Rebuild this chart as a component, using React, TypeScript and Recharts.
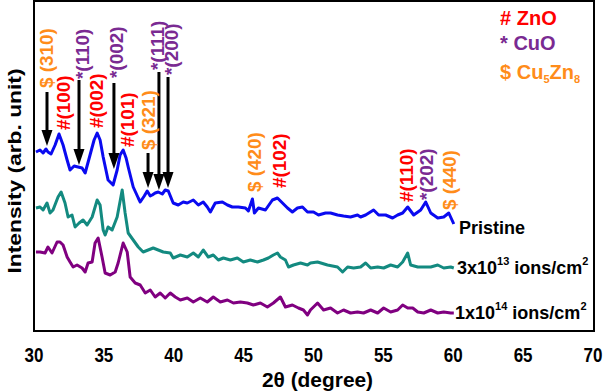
import React from 'react';
import { LineChart, Line, XAxis, YAxis, ReferenceDot, ReferenceLine, Label } from 'recharts';

const FONT = "'Liberation Sans', Arial, Helvetica, sans-serif";

const xTicks = [30, 35, 40, 45, 50, 55, 60, 65, 70];
const xDomain = [30, 70];
const yDomain = [-1, 329];

const pristineTheta = [30.14,30.43,30.65,30.86,31.00,31.22,31.51,31.79,32.08,32.37,
32.58,32.87,33.15,33.44,33.66,34.01,34.30,34.52,34.73,34.95,
35.30,35.66,35.95,36.16,36.38,36.59,36.74,37.10,37.46,37.60,
37.89,38.10,38.32,38.46,38.67,38.89,39.18,39.39,39.61,39.96,
40.32,40.68,40.97,41.40,41.76,42.11,42.40,42.62,42.97,43.48,
43.84,44.19,44.62,45.13,45.34,45.63,45.77,46.06,46.56,47.06,
47.42,47.78,48.14,48.49,48.85,49.21,49.57,50.00,50.36,50.86,
51.22,51.72,52.15,52.65,53.15,53.37,53.73,54.30,54.66,55.16,
55.66,56.02,56.38,56.74,57.17,57.67,58.03,58.39,58.89,59.32,
59.68,60.04];
const pristineIntensity = [178,180,177,181,178,176,185,196,185,170,
160,164,163,162,157,175,190,197,190,173,
150,145,160,175,180,172,163,143,132,128,
134,139,134,135,137,138,136,140,139,127,
125,128,127,130,125,128,123,118,127,128,
125,123,123,122,119,131,117,122,120,130,
132,127,122,118,122,123,118,118,115,117,
117,115,114,113,115,113,115,120,115,115,
112,115,117,123,115,120,128,117,112,113,
117,106];

const dose13Theta = [30.14,30.43,30.65,30.93,31.15,31.36,31.72,31.94,32.22,32.44,
32.72,32.94,33.23,33.51,33.80,34.16,34.52,34.73,34.95,35.09,
35.30,35.59,35.95,36.31,36.52,36.74,37.10,37.46,37.81,38.17,
38.53,38.89,39.25,39.75,39.96,40.47,40.97,41.40,41.76,42.11,
42.47,42.83,43.19,43.55,44.05,44.55,44.98,45.48,45.99,46.42,
46.77,47.13,47.42,47.63,47.99,48.21,48.57,49.07,49.57,49.78,
50.29,51.00,51.72,52.08,52.44,52.87,53.37,53.73,54.09,54.59,
55.02,55.52,56.02,56.38,56.74,56.95,57.46,57.89,58.39,58.89,
59.32,59.82,60.04];
const dose13Intensity = [122,123,120,127,117,120,133,138,127,113,
115,103,107,110,105,113,130,125,100,95,
103,100,113,140,117,97,90,83,78,80,
82,80,78,77,72,75,73,77,73,80,
73,75,70,72,70,72,68,70,68,70,
72,75,77,73,70,63,65,67,65,67,
68,65,63,58,63,62,63,67,62,63,
62,65,63,68,77,65,63,63,63,65,
62,63,62];

const dose14Theta = [30.14,30.43,30.79,31.00,31.29,31.65,31.86,32.08,32.37,32.58,
32.80,33.08,33.44,33.66,33.87,34.16,34.37,34.59,34.87,35.09,
35.45,35.81,36.02,36.38,36.67,36.88,37.24,37.60,37.96,38.32,
38.67,39.03,39.39,39.75,40.11,40.47,40.97,41.40,41.90,42.40,
42.83,43.33,43.84,44.27,44.77,45.27,45.70,46.20,46.70,47.13,
47.63,47.99,48.49,48.92,49.28,49.57,49.78,50.29,50.72,51.22,
51.72,52.15,52.65,53.15,53.58,54.09,54.59,55.02,55.52,56.02,
56.38,56.74,57.10,57.46,57.89,58.39,58.89,59.32,59.82,60.04];
const dose14Intensity = [78,78,77,83,77,88,88,85,73,68,
63,65,62,58,67,68,87,92,73,57,
55,58,67,87,78,53,47,45,37,40,
33,37,32,37,33,30,32,28,32,28,
33,28,30,27,28,27,25,27,23,27,
33,23,25,22,20,15,20,27,20,22,
17,20,17,18,17,20,17,22,18,20,
25,22,22,18,17,20,17,18,17,17];

// peak annotations
const peakTheta = [30.93, 32.15, 33.51, 34.51, 35.94, 36.73, 38.23, 38.87, 39.87, 45.81, 47.60, 56.69, 58.12, 59.77];
const peakLabelBase = [242, 200, 251, 202, 252, 183, 180, 260, 255, 138, 142, 128, 130, 120];
const peakText = ['$ (310)', '#(100)', '*(110)', '#(002)', '*(002)', '#(101)', '$ (321)', '*(111)', '*(200)', '$ (420)', '#(102)', '#(110)', '*(202)', '$ (440)'];
const peakPhase = ['Cu5Zn8', 'ZnO', 'CuO', 'ZnO', 'CuO', 'ZnO', 'Cu5Zn8', 'CuO', 'CuO', 'Cu5Zn8', 'ZnO', 'ZnO', 'CuO', 'Cu5Zn8'];

// arrows: 2theta, tail, tip
const arrowTheta = [30.93, 33.22, 35.72, 38.16, 38.94, 39.59];
const arrowTail = [238, 250, 247, 177, 258, 253];
const arrowTip = [184, 165, 161, 142, 140, 142];

const phaseColor: Record<string, string> = { ZnO: '#FF0000', CuO: '#7A2A92', Cu5Zn8: '#FF8C1A' };

const zip = (xs: number[], ys: number[]) => xs.map((x, i) => ({ theta: x, intensity: ys[i] }));
const pristineData = zip(pristineTheta, pristineIntensity);
const dose13Data = zip(dose13Theta, dose13Intensity);
const dose14Data = zip(dose14Theta, dose14Intensity);

const XTick = (props: any) => {
  const { x, y, payload } = props;
  return (
    <text transform={`translate(${x},${y + 31}) scale(1,1.2)`} textAnchor="middle" fontFamily={FONT} fontWeight="bold" fontSize={17} fill="#000" stroke="none">
      {payload.value}
    </text>
  );
};

const rotatedLabel = (text: string, color: string) => (p: any) => (
  <text transform={`translate(${p.cx},${p.cy}) rotate(-90) scale(1.05,1)`} textAnchor="start" dominantBaseline="central" fontFamily={FONT} fontWeight="bold" fontSize={18} fill={color}>
    {text}
  </text>
);

const arrowHead = (p: any) => (
  <polygon points={`${p.cx - 5.5},${p.cy - 16} ${p.cx + 5.5},${p.cy - 16} ${p.cx},${p.cy}`} fill="#000" />
);

const seriesLabel = (base: string, exp: string | null, unitExp: string | null) => (p: any) => (
  <text x={p.cx} y={p.cy} dominantBaseline="central" fontFamily={FONT} fontWeight="bold" fontSize={18} fill="#000">
    <tspan>{base}</tspan>
    {exp && <tspan dy={-7} fontSize={11}>{exp}</tspan>}
    {exp && <tspan dy={7}> ions/cm</tspan>}
    {unitExp && <tspan dy={-7} fontSize={11}>{unitExp}</tspan>}
  </text>
);

const legendText = (content: React.ReactNode, color: string) => (p: any) => (
  <text x={p.cx} y={p.cy} dominantBaseline="central" fontFamily={FONT} fontWeight="bold" fontSize={20} fill={color}>
    {content}
  </text>
);

const YTitle = (p: any) => {
  const vb = p.viewBox || { x: 0, y: 1, width: 34, height: 330 };
  const cx = 14;
  const cy = vb.y + vb.height / 2 + 5;
  return (
    <text transform={`translate(${cx},${cy}) rotate(-90) scale(1.2,1)`} textAnchor="middle" dominantBaseline="central" fontFamily={FONT} fontWeight="bold" fontSize={19} fill="#000">
      Intensity (arb. unit)
    </text>
  );
};

const XTitle = (p: any) => {
  const vb = p.viewBox || { x: 34, y: 331, width: 559, height: 60 };
  return (
    <text transform={`translate(${vb.x + vb.width / 2 + 4},387) scale(1.1,1.1)`} textAnchor="middle" fontFamily={FONT} fontWeight="bold" fontSize={19} fill="#000">
      2θ (degree)
    </text>
  );
};

export default function App() {
  return (
    <div style={{ position: 'absolute', left: 0, top: 0, width: 605, height: 392, background: '#fff' }}>
      <LineChart width={605} height={392} margin={{ top: 1, right: 12, bottom: 1, left: 0 }}>
        <XAxis
          dataKey="theta"
          type="number"
          domain={xDomain}
          ticks={xTicks}
          allowDataOverflow
          axisLine={false}
          tickLine={false}
          tickSize={0}
          tickMargin={0}
          height={60}
          tick={<XTick />}
          label={<Label content={<XTitle />} />}
        />
        <YAxis
          type="number"
          domain={yDomain}
          allowDataOverflow
          width={34}
          axisLine={false}
          tick={false}
          tickLine={false}
          label={<Label content={<YTitle />} />}
        />
        <Line data={pristineData} dataKey="intensity" stroke="#0A0AF0" strokeWidth={3} dot={false} isAnimationActive={false} strokeLinejoin="round" />
        <Line data={dose13Data} dataKey="intensity" stroke="#138A80" strokeWidth={3} dot={false} isAnimationActive={false} strokeLinejoin="round" />
        <Line data={dose14Data} dataKey="intensity" stroke="#800080" strokeWidth={3} dot={false} isAnimationActive={false} strokeLinejoin="round" />

        {arrowTheta.map((t, i) => (
          <ReferenceLine key={`as${i}`} segment={[{ x: t, y: arrowTail[i] }, { x: t, y: arrowTip[i] + 8 }]} stroke="#000" strokeWidth={3} ifOverflow="visible" />
        ))}
        {arrowTheta.map((t, i) => (
          <ReferenceDot key={`ah${i}`} x={t} y={arrowTip[i]} r={0} ifOverflow="visible" shape={arrowHead} />
        ))}
        {peakTheta.map((t, i) => (
          <ReferenceDot key={`pl${i}`} x={t} y={peakLabelBase[i]} r={0} ifOverflow="visible" shape={rotatedLabel(peakText[i], phaseColor[peakPhase[i]])} />
        ))}

        <ReferenceDot x={60.41} y={102} r={0} ifOverflow="visible" shape={seriesLabel('Pristine', null, null)} />
        <ReferenceDot x={60.27} y={62} r={0} ifOverflow="visible" shape={seriesLabel('3x10', '13', '2')} />
        <ReferenceDot x={60.13} y={17} r={0} ifOverflow="visible" shape={seriesLabel('1x10', '14', '2')} />

        <ReferenceDot x={63.35} y={312} r={0} ifOverflow="visible" shape={legendText('# ZnO', phaseColor.ZnO)} />
        <ReferenceDot x={63.35} y={287} r={0} ifOverflow="visible" shape={legendText('* CuO', phaseColor.CuO)} />
        <ReferenceDot
          x={63.35}
          y={258}
          r={0}
          ifOverflow="visible"
          shape={legendText(
            <>
              <tspan>$ Cu</tspan>
              <tspan dy={7} fontSize={11}>5</tspan>
              <tspan dy={-7}>Zn</tspan>
              <tspan dy={7} fontSize={11}>8</tspan>
            </>,
            phaseColor.Cu5Zn8
          )}
        />
      </LineChart>
      <div
        style={{
          position: 'absolute',
          left: 33,
          top: 0,
          width: 562,
          height: 332,
          border: '2px solid #000',
          boxSizing: 'border-box',
          pointerEvents: 'none',
        }}
      />
    </div>
  );
}
